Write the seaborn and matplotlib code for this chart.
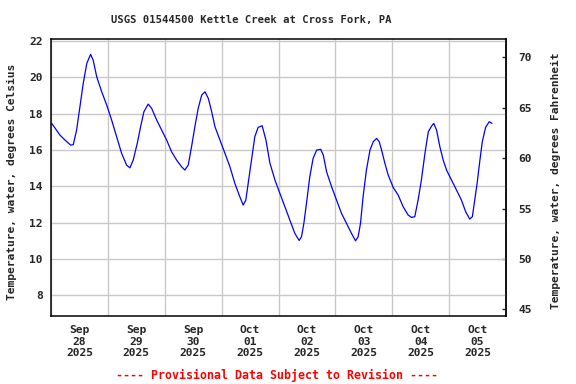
import numpy as np
import pandas as pd
import seaborn as sns
import matplotlib.pyplot as plt
import matplotlib.dates as mdates

# hours after 2025-09-28 00:00 and water temperature (deg C)
hours = [0.3, 3.8, 5.9, 8.3, 9.4, 10.8, 12.2, 13.6, 15.1, 16.7, 17.8, 19.3, 21.4, 23.5,
         25.6, 27.7, 29.8, 31.9, 33.3, 34.7, 36.4, 37.8, 39.2, 41.0, 42.5, 44.6, 46.7,
         48.8, 50.9, 53.0, 55.1, 56.5, 57.9, 59.3, 60.7, 62.1, 63.6, 65.0, 66.4, 67.8,
         69.2, 71.3, 73.4, 75.5, 77.6, 79.4, 81.1, 82.2, 83.2, 84.6, 86.0, 87.4, 89.1,
         90.7, 92.4, 94.5, 96.6, 98.7, 100.8, 102.9, 104.7, 105.7, 106.7, 107.8, 109.2,
         110.6, 112.1, 113.8, 114.9, 116.3, 118.4, 120.5, 122.6, 124.7, 126.8, 128.5,
         129.6, 130.6, 131.7, 133.1, 134.6, 136.0, 137.4, 138.5, 139.5, 140.9, 142.3,
         144.4, 146.5, 148.6, 150.7, 152.1, 153.5, 154.9, 156.3, 157.8, 159.2, 160.6,
         161.5, 162.7, 164.1, 165.5, 166.9, 169.0, 171.1, 173.2, 175.0, 176.7, 177.8,
         178.8, 179.8, 180.9, 182.0, 183.4, 184.9, 186.1]
temp_c = [17.47, 16.82, 16.55, 16.27, 16.30, 17.10, 18.38, 19.67, 20.77, 21.27, 20.95,
          20.03, 19.21, 18.48, 17.65, 16.73, 15.82, 15.17, 15.02, 15.45, 16.37, 17.28,
          18.11, 18.53, 18.29, 17.65, 17.10, 16.55, 15.90, 15.45, 15.08, 14.90, 15.17,
          16.18, 17.28, 18.29, 19.03, 19.21, 18.84, 18.11, 17.28, 16.55, 15.82, 15.08,
          14.16, 13.52, 12.97, 13.24, 14.16, 15.45, 16.73, 17.25, 17.34, 16.55, 15.27,
          14.35, 13.61, 12.88, 12.14, 11.41, 11.02, 11.22, 11.96, 13.06, 14.53, 15.54,
          16.00, 16.04, 15.72, 14.80, 13.98, 13.24, 12.51, 11.96, 11.41, 11.00, 11.22,
          11.96, 13.43, 14.90, 16.00, 16.46, 16.64, 16.46, 16.00, 15.27, 14.62, 13.94,
          13.52, 12.88, 12.42, 12.29, 12.33, 13.24, 14.35, 15.82, 17.00, 17.32, 17.47,
          17.10, 16.18, 15.45, 14.90, 14.35, 13.80, 13.24, 12.60, 12.20, 12.33, 13.24,
          14.16, 15.35, 16.46, 17.25, 17.56, 17.47]

title = "USGS 01544500 Kettle Creek at Cross Fork, PA"
left_label = "Temperature, water, degrees Celsius"
right_label = "Temperature, water, degrees Fahrenheit"
note = "---- Provisional Data Subject to Revision ----"
c_ticks = [8, 10, 12, 14, 16, 18, 20, 22]
f_ticks = [45, 50, 55, 60, 65, 70]

start = pd.Timestamp("2025-09-28")
df = pd.DataFrame({"time": start + pd.to_timedelta(hours, unit="h"), "temp": temp_c})

sns.set_style("white")
plt.rcParams['font.family'] = ['DejaVu Sans Mono']
plt.rcParams['font.weight'] = 'bold'
plt.rcParams['ytick.direction'] = 'in'

fig = plt.figure(figsize=(5.76, 3.84), dpi=100)
ax = fig.add_axes([51/576, 1-316/384, 455/576, (316-39.3)/384])

sns.lineplot(data=df, x="time", y="temp", ax=ax, color="#0000ff", lw=0.9)

ax.set_xlim(start, start + pd.Timedelta(days=8))
ax.set_ylim(6.86, 22.1)
ax.set_yticks(c_ticks)
ax.set_xticks([start + pd.Timedelta(days=d) for d in range(9)], minor=True)
ax.set_xticks([start + pd.Timedelta(days=d, hours=12) for d in range(8)])
ax.xaxis.set_major_formatter(mdates.DateFormatter("%b\n%d\n%Y"))
ax.grid(False)
ax.grid(True, which="minor", axis="x", color="#c8c8c8", lw=1.0)
ax.grid(True, which="major", axis="y", color="#c8c8c8", lw=1.0)
ax.tick_params(axis="x", which="both", length=0, pad=6.5, labelsize=8.1)
ax.tick_params(axis="y", length=0, pad=6, labelsize=8.1)
for lab in ax.get_xticklabels() + ax.get_yticklabels():
    lab.set_fontweight("bold")
ax.set_xlabel("")
ax.set_ylabel("")
for s in ax.spines.values():
    s.set_color("black")
    s.set_linewidth(1.1)

sec = ax.secondary_yaxis("right", functions=(lambda c: c * 9 / 5 + 32, lambda f: (f - 32) * 5 / 9))
sec.set_yticks(f_ticks)
sec.yaxis.set_tick_params(direction="in", length=3, width=1, pad=9, labelsize=8.1)
for lab in sec.get_yticklabels():
    lab.set_fontweight("bold")
sec.spines["right"].set_linewidth(1.1)

fig.text(251.5/576, 1-20/384, title, ha="center", va="center", fontsize=7.6, fontweight="bold")
fig.text(11.5/576, 1-182/384, left_label, rotation=90, ha="center", va="center",
         fontsize=8.1, fontweight="bold")
fig.text(556/576, 1-181/384, right_label, rotation=90, ha="center", va="center",
         fontsize=8.1, fontweight="bold")
fig.text(277.5/576, 1-375/384, note, ha="center", va="center", color="#ff0000",
         fontsize=8.4, fontweight="bold")

plt.savefig("out.png", dpi=100)
